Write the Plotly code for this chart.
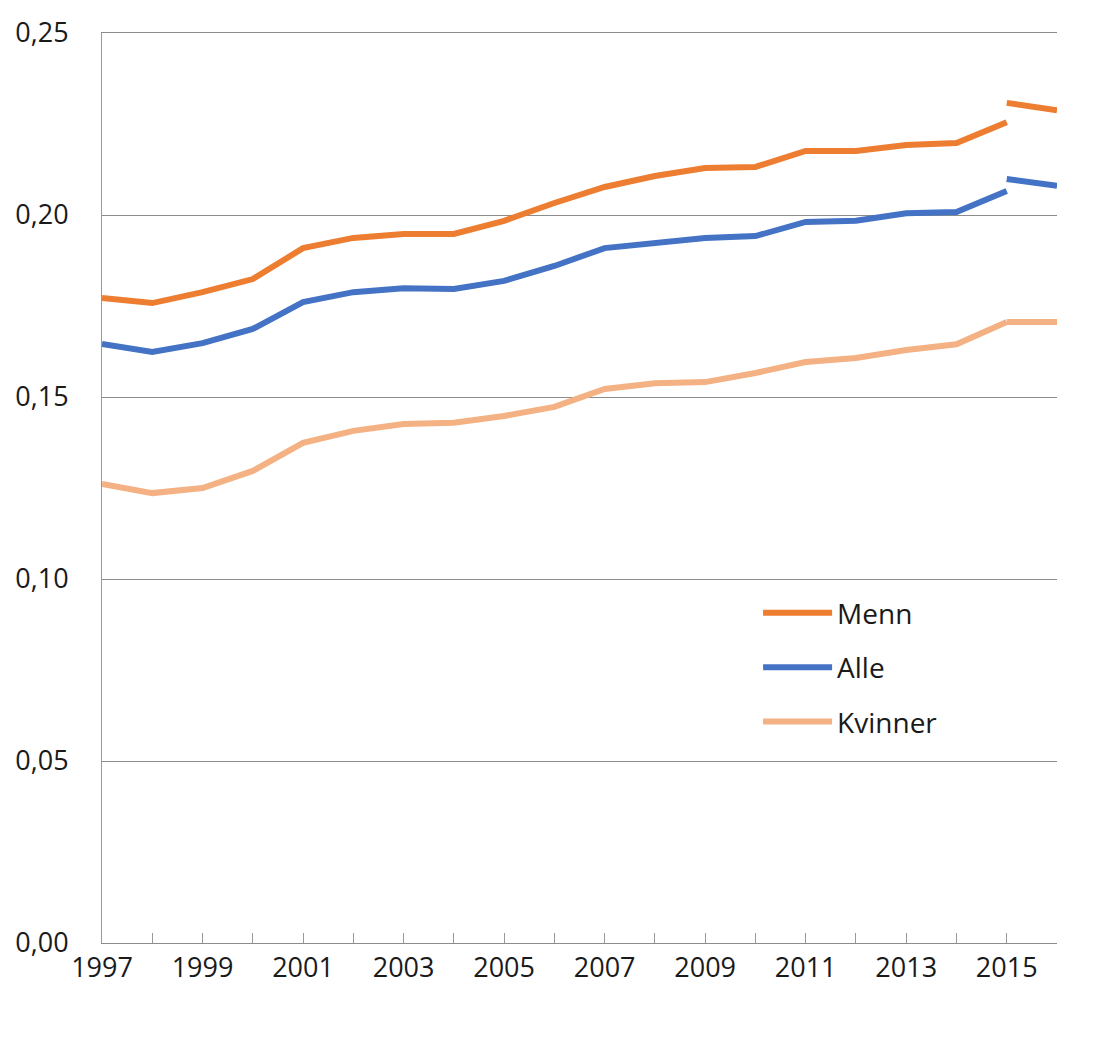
import plotly.graph_objects as go

years = list(range(1997, 2016))
years_new = [2015, 2016]

menn = [0.1772, 0.1758, 0.1788, 0.1824, 0.1909, 0.1937, 0.1948, 0.1948, 0.1984,
        0.2033, 0.2077, 0.2107, 0.2129, 0.2132, 0.2176, 0.2176, 0.2192, 0.2198, 0.2255]
alle = [0.1646, 0.1624, 0.1648, 0.1687, 0.1761, 0.1788, 0.1799, 0.1797, 0.1819,
        0.1860, 0.1909, 0.1923, 0.1937, 0.1942, 0.1981, 0.1984, 0.2005, 0.2008, 0.2066]
kvinner = [0.1261, 0.1236, 0.1250, 0.1297, 0.1374, 0.1407, 0.1426, 0.1429, 0.1448,
           0.1473, 0.1522, 0.1538, 0.1541, 0.1566, 0.1596, 0.1607, 0.1629, 0.1645, 0.1706]
menn_new = [0.2308, 0.2288]
alle_new = [0.2099, 0.2080]
kvinner_new = [0.1706, 0.1706]

series = [
    ("Menn", menn, menn_new, "#ED7D31"),
    ("Alle", alle, alle_new, "#4472C4"),
    ("Kvinner", kvinner, kvinner_new, "#F4B183"),
]

fig = go.Figure()
for name, vals, vals_new, color in series:
    fig.add_trace(go.Scatter(x=years, y=vals, mode="lines", name=name,
                             legendgroup=name,
                             line=dict(color=color, width=6)))
    fig.add_trace(go.Scatter(x=years_new, y=vals_new, mode="lines", name=name,
                             legendgroup=name, showlegend=False,
                             line=dict(color=color, width=6)))

all_years = list(range(1997, 2017))
tick_text = [str(y) if (y - 1997) % 2 == 0 and y <= 2015 else "" for y in all_years]

fig.update_layout(
    width=1104, height=1021,
    margin=dict(l=94, r=55, t=25, b=86),
    paper_bgcolor="white", plot_bgcolor="white",
    separators=", ",
    font=dict(family="Open Sans", size=27, color="#1a1a1a"),
    legend=dict(x=0.687, y=0.39, xanchor="left", yanchor="top",
                font=dict(size=28), itemwidth=69, traceorder="grouped",
                tracegroupgap=15, bgcolor="rgba(0,0,0,0)"),
    xaxis=dict(range=[1997, 2016], tickvals=all_years, ticktext=tick_text,
               ticks="inside", ticklen=10, tickcolor="#999999",
               showline=True, linecolor="#8c8c8c", linewidth=1, mirror=True,
               showgrid=False, zeroline=False, ticklabelstandoff=1,
               automargin=False),
    yaxis=dict(range=[0, 0.25], dtick=0.05, tickformat=".2f",
               showline=True, linecolor="#999999", linewidth=1,
               showgrid=True, gridcolor="#8c8c8c", gridwidth=1,
               zeroline=False, ticks="", ticklabelstandoff=27,
               automargin=False),
)

fig.write_html("out.html")
